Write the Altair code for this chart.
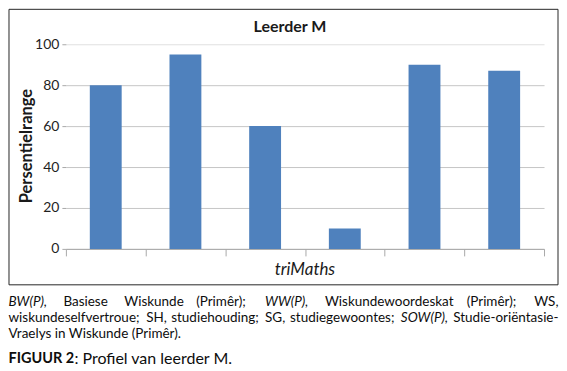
import altair as alt
import pandas as pd

# ---- data ----
cats = ["BW(P)", "WW(P)", "WS", "SH", "SG", "SOW(P)"]
vals = [80, 95, 60, 10, 90, 87]
y_ticks = [0, 20, 40, 60, 80, 100]
chart_title = "Leerder M"
y_title = "Persentielrange"
x_title = "triMaths"

line1_words = ["BW(P),", "Basiese", "Wiskunde", "(Primêr);", "WW(P),", "Wiskundewoordeskat", "(Primêr);", "WS,"]
line2_words = ["wiskundeselfvertroue;", "SH,", "studiehouding;", "SG,", "studiegewoontes;", "SOW(P),", "Studie-oriëntasie-"]
line3_text = "Vraelys in Wiskunde (Primêr)."
fig_bold = "FIGUUR 2"
fig_rest = ": Profiel van leerder M."

# ---- layout (page pixel coordinates) ----
W, H = 479, 205
L, T = 65.5, 43.5
line1_x = [8, 63, 124, 196, 265, 325, 467, 559]
line1_it = [True, False, False, False, True, False, False, False]
line2_x = [8, 146, 171, 265, 290, 401, 559]
line2_it = [False, False, False, False, False, True, False]
line_y = [302, 318, 334, 359]
FONT = "Lato"
CAP = 13.5


def rel_x(px):
    return px - L


def rel_y(py):
    return py - T


one = pd.DataFrame({"a": [0]})
df = pd.DataFrame({"cat": cats, "val": vals})

box = alt.Chart(one).mark_rect(filled=False, color="#262626", strokeWidth=1).encode(
    x=alt.value(-57), x2=alt.value(493), y=alt.value(-35), y2=alt.value(241)
)

bars = alt.Chart(df).mark_bar(width=alt.RelativeBandSize(0.4), color="#4f81bd").encode(
    x=alt.X(
        "cat:N", sort=cats,
        scale=alt.Scale(paddingInner=0, paddingOuter=0),
        axis=alt.Axis(labels=False, title=None, tickBand="extent", tickSize=7,
                      tickColor="#a9a9a9", domainColor="#a9a9a9", grid=False),
    ),
    y=alt.Y(
        "val:Q",
        scale=alt.Scale(domain=[0, 100], nice=False),
        axis=alt.Axis(values=y_ticks, title=None, domain=False, tickSize=4,
                      tickColor="#a9a9a9", labelFontSize=14, labelFont=FONT,
                      labelColor="#1f1f1f", labelPadding=3,
                      gridColor={"condition": {"test": "datum.value === 100", "value": "#e0e0e0"},
                                 "value": "#c6c6c6"}),
    ),
)

title_t = alt.Chart(one).mark_text(font=FONT, fontSize=16, fontWeight="bold", color="#1a1a1a",
                                   baseline="middle", align="center").encode(
    x=alt.value(rel_x(290)), y=alt.value(rel_y(26.7)), text=alt.value(chart_title))
ytitle_t = alt.Chart(one).mark_text(font=FONT, fontSize=16.5, fontWeight="bold", color="#1a1a1a",
                                    baseline="middle", align="center", angle=270).encode(
    x=alt.value(rel_x(27)), y=alt.value(rel_y(145.5)), text=alt.value(y_title))
xtitle_t = alt.Chart(one).mark_text(font=FONT, fontSize=17, fontStyle="italic", color="#1a1a1a",
                                    baseline="middle", align="center").encode(
    x=alt.value(rel_x(305)), y=alt.value(rel_y(270)), text=alt.value(x_title))


def text_layer(rows, **kw):
    d = pd.DataFrame(rows, columns=["t", "px", "py"])
    return alt.Chart(d).mark_text(baseline="middle", color="#0d0d0d", font=FONT, **kw).encode(
        x=alt.X("px:Q", scale=None, axis=None),
        y=alt.Y("py:Q", scale=None, axis=None),
        text="t:N",
    )


left_norm, left_it, right_norm = [], [], []
for words, xs, its, ly in [(line1_words, line1_x, line1_it, line_y[0]),
                           (line2_words, line2_x, line2_it, line_y[1])]:
    n = len(words)
    for i, (w, x, it) in enumerate(zip(words, xs, its)):
        row = (w, rel_x(x), rel_y(ly))
        if i == n - 1:
            right_norm.append(row)
        elif it:
            left_it.append(row)
        else:
            left_norm.append(row)
left_norm.append((line3_text, rel_x(8), rel_y(line_y[2])))

cap_layers = [
    text_layer(left_norm, fontSize=CAP, align="left"),
    text_layer(left_it, fontSize=CAP, align="left", fontStyle="italic"),
    text_layer(right_norm, fontSize=CAP, align="right"),
    text_layer([(fig_bold, rel_x(8), rel_y(line_y[3]))], fontSize=14.5, align="left", fontWeight="bold"),
    text_layer([(fig_rest, rel_x(74), rel_y(line_y[3]))], fontSize=16, align="left"),
]

chart = alt.layer(box, bars, title_t, ytitle_t, xtitle_t, *cap_layers).properties(
    width=W, height=H, padding=0, background="white"
).configure_view(stroke=None)

chart.save("out.html", embed_options={"renderer": "svg", "actions": False})
